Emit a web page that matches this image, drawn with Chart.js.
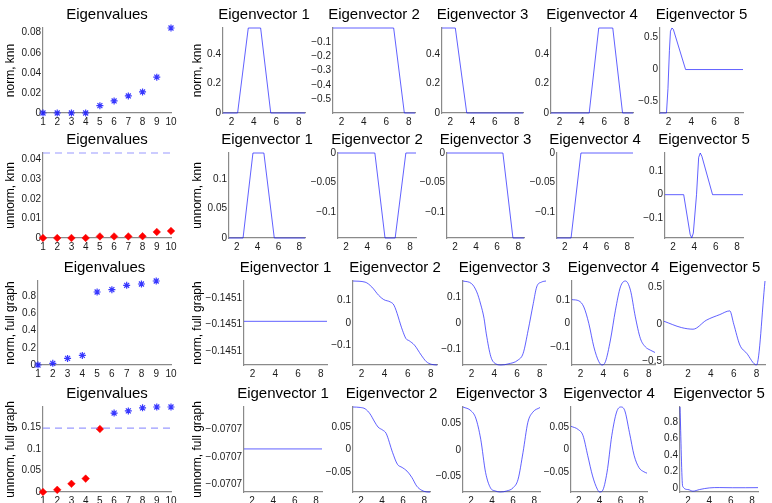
<!DOCTYPE html>
<html>
<head>
<meta charset="utf-8">
<script src="https://cdn.jsdelivr.net/npm/chart.js@4.4.0/dist/chart.umd.min.js"></script>
<style>
  body { margin: 0; background: #fff; width: 772px; height: 503px; position: relative; overflow: hidden; }
  canvas { position: absolute; }
</style>
</head>
<body>
<script>
/* ============== Data: eigenvalues ===========*/
const evIdx = [1, 2, 3, 4, 5, 6, 7, 8, 9, 10];
const evalNormKnn = [0, 0, 0, 0, 0.0073, 0.012, 0.017, 0.021, 0.0357, 0.0847];
const evalUnnormKnn = [0, 0, 0, 0, 0.0008, 0.0008, 0.0008, 0.0009, 0.0031, 0.0036];
const evalNormFull = [0, 0.019, 0.077, 0.112, 0.85, 0.877, 0.928, 0.943, 0.978, null];
const evalUnnormFull = [0, 0.005, 0.019, 0.031, 0.146, 0.183, 0.188, 0.195, 0.197, 0.197];
// '*' = blue star, 'd' = red diamond
const markNormKnn = '**********'.split('');
const markUnnormKnn = 'dddddddddd'.split('');
const markNormFull = '**********'.split('');
const markUnnormFull = 'ddddd*****'.split('');
// dashed gap lines
const gapX = [1, 10];
const gapUnnormKnn = 0.0434;
const gapUnnormFull = 0.148;

const evYMax = [0.0847, 0.0434, 0.978, 0.197];
const evYTicks = [
  [0, 0.02, 0.04, 0.06, 0.08],
  [0, 0.01, 0.02, 0.03, 0.04],
  [0, 0.2, 0.4, 0.6, 0.8],
  [0, 0.05, 0.1, 0.15]
];

/* ============== Data: eigenvectors, norm knn ===========*/
const nk1 = [[1.25, 0], [2.55, 0], [3.5, 0.58], [4.6, 0.58], [5.5, 0], [8.55, 0]];
const nk2 = [[1.25, -0.002], [6.65, -0.002], [7.6, -0.598], [8.55, -0.598]];
const nk3 = [[1.25, 0.58], [2.45, 0.58], [3.48, 0], [8.55, 0]];
const nk4 = [[1.25, 0], [4.65, 0], [5.5, 0.58], [6.75, 0.58], [7.62, 0], [8.55, 0]];
const nk5 = [[1.25, -0.68], [1.82, -0.68], [1.95, -0.3], [2.08, 0.3], [2.17, 0.6], [2.3, 0.65], [2.42, 0.63], [3.5, 0], [8.55, 0]];
const nkLim = [[0, 0.58], [-0.598, -0.002], [0, 0.58], [0, 0.58], [-0.68, 0.65]];
const nkTicks = [[0, 0.2, 0.4], [-0.5, -0.4, -0.3, -0.2, -0.1], [0, 0.2, 0.4], [0, 0.2, 0.4], [-0.5, 0, 0.5]];

/* ============== Data: eigenvectors, unnorm knn ===========*/
const uk1 = [[1.25, 0], [2.6, 0], [3.55, 0.144], [4.6, 0.144], [5.6, 0], [8.55, 0]];
const uk2 = [[1.25, 0], [4.7, 0], [5.65, -0.144], [6.6, -0.144], [7.6, 0], [8.55, 0]];
const uk3 = [[1.25, 0], [6.55, 0], [7.5, -0.144], [8.55, -0.144]];
const uk4 = [[1.25, -0.144], [2.6, -0.144], [3.55, 0], [8.55, 0]];
const uk5 = [[1.25, 0], [3.0, 0], [3.6, -0.17], [3.75, -0.186], [3.9, -0.165], [4.2, 0], [4.4, 0.16], [4.55, 0.179], [4.7, 0.165], [5.7, 0], [8.55, 0]];
const ukLim = [[0, 0.144], [-0.144, 0], [-0.144, 0], [-0.144, 0], [-0.186, 0.179]];
const ukTicks = [[0, 0.05, 0.1], [-0.1, -0.05, 0], [-0.1, -0.05, 0], [-0.1, -0.05, 0], [-0.1, 0, 0.1]];

/* ============== Data: eigenvectors, norm full graph ===========*/
const nf1 = [[1.25, -0.145094], [8.55, -0.145094]];
const nf2 = [[1.25, 0.187], [2.3, 0.182], [2.89, 0.16], [3.48, 0.123], [3.92, 0.104], [4.51, 0.093], [4.81, 0.079],
  [5.55, -0.033], [5.85, -0.07], [6.14, -0.08], [6.59, -0.099], [7.18, -0.144], [7.62, -0.173], [8.07, -0.185], [8.55, -0.188]];
const nf3 = [[1.25, 0.164], [2.0, 0.154], [2.46, 0.122], [2.8, 0.075], [3.1, 0.02], [3.3, -0.04], [3.7, -0.128], [4.15, -0.156],
  [4.6, -0.16], [5.2, -0.156], [6.09, -0.141], [6.54, -0.115], [6.98, -0.026], [7.43, 0.077], [7.73, 0.141], [8.17, 0.16], [8.55, 0.164]];
const nf4 = [[1.25, 0.101], [1.85, 0.096], [2.29, 0.07], [2.73, 0], [3.17, -0.099], [3.61, -0.162], [3.9, -0.176], [4.19, -0.162],
  [4.63, -0.07], [5.07, 0.056], [5.51, 0.155], [5.95, 0.18], [6.39, 0.141], [6.82, 0.028], [7.26, -0.063], [7.7, -0.099], [8.14, -0.113], [8.55, -0.123]];
const nf5 = [[-0.1, 0.04], [1.42, -0.045], [2.44, -0.067], [3.6, 0.054], [4.78, 0.13], [5.65, 0.18], [6.0, 0.0], [6.53, -0.28],
  [7.12, -0.39], [7.99, -0.55], [8.73, 0.583]];
const nfLim = [[-0.14512, -0.14507], [-0.188, 0.187], [-0.16, 0.164], [-0.176, 0.18], [-0.55, 0.583]];
const nfTicks = [[-0.145112, -0.1450955, -0.14508], [-0.1, 0, 0.1], [-0.1, 0, 0.1], [-0.1, 0, 0.1], [-0.5, 0, 0.5]];

/* ============== Data: eigenvectors, unnorm full graph ===========*/
const uf1 = [[1.25, -0.0707074], [8.55, -0.0707074]];
const uf2 = [[1.25, 0.094], [1.94, 0.093], [2.4, 0.09], [2.86, 0.079], [3.31, 0.061], [3.62, 0.05], [4.08, 0.043], [4.39, 0.036],
  [5.0, -0.006], [5.46, -0.032], [5.91, -0.039], [6.37, -0.047], [6.83, -0.061], [7.29, -0.08], [7.75, -0.089], [8.36, -0.093], [8.55, -0.093]];
const uf3 = [[1.25, 0.081], [2.0, 0.074], [2.46, 0.06], [2.93, 0.02], [3.39, -0.043], [3.85, -0.072], [4.31, -0.078], [4.78, -0.08],
  [5.4, -0.078], [6.0, -0.072], [6.47, -0.056], [6.94, -0.005], [7.4, 0.052], [7.86, 0.071], [8.55, 0.08]];
const uf4 = [[1.25, 0.051], [1.94, 0.044], [2.4, 0.031], [2.86, -0.013], [3.32, -0.057], [3.78, -0.086], [4.0, -0.092], [4.25, -0.09],
  [4.71, -0.049], [5.17, 0.031], [5.63, 0.082], [6.03, 0.093], [6.4, 0.086], [6.86, 0.038], [7.32, -0.013], [7.78, -0.039], [8.25, -0.048], [8.55, -0.051]];
const uf5 = [[1.25, 0.985], [1.5, 0.02], [2.0, -0.02], [2.46, -0.04], [3.08, -0.02], [4.0, 0.0], [4.92, 0.004], [6.15, 0.002], [7.38, 0.002], [8.55, 0.003]];
const ufLim = [[-0.070715, -0.0707], [-0.093, 0.094], [-0.08, 0.081], [-0.092, 0.093], [-0.05, 0.985]];
const ufTicks = [[-0.07071365, -0.0707089, -0.07070386], [-0.05, 0, 0.05], [-0.05, 0, 0.05], [-0.05, 0, 0.05], [0, 0.2, 0.4, 0.6, 0.8]];

const vecX = [1.25, 8.55];
const vecXWide = [-0.1, 8.73];   // norm full graph, eigenvector 5
const vecXTicks = [2, 4, 6, 8];

const rowLabels = ['norm, knn', 'unnorm, knn', 'norm, full graph', 'unnorm, full graph'];

/* ============== Layout (plot areas in px) ===========*/
const rowY = [[28, 113], [153, 238], [281, 365], [407, 492]];
const colX = [
  [[43, 171], [223, 305], [333, 415], [442, 523], [551, 633], [660, 743]],
  [[43, 171], [229, 305], [338, 416], [447, 524], [557, 633], [665, 743]],
  [[38, 171], [244, 327], [353, 437], [463, 546], [572, 655], [664, 765]],
  [[43, 171], [244, 322], [353, 430], [463, 540], [571, 647], [680, 758]]
];

const FONT = '"Liberation Sans", Arial, Helvetica, sans-serif';
Chart.defaults.font.family = FONT;
const LINE = 'rgba(30, 30, 255, 0.7)';
const AXIS = '#8a8a8a';
const TXT = '#1a1a1a';

function fmt(v) {
  return String(+(+v).toFixed(4)).replace('-', '\u2212');
}

// title drawn centred over the plot area, like matlab's axes title
const plotTitle = {
  id: 'plotTitle',
  afterDraw(chart, args, opts) {
    const { ctx, chartArea } = chart;
    ctx.save();
    ctx.font = '15px ' + FONT;
    ctx.fillStyle = '#000';
    ctx.textAlign = 'center';
    ctx.textBaseline = 'alphabetic';
    ctx.fillText(opts.text, (chartArea.left + chartArea.right) / 2, chartArea.top - 9);
    ctx.restore();
  }
};

function makeChart(row, col, cfg) {
  const [left, right] = colX[row][col];
  const [top, bottom] = rowY[row];
  const titleH = 26, axisH = 18, padR = 12;
  let axisW = 46;
  if (col === 0) axisW = left - 3;
  if (col === 1) axisW = left - 190;
  const w = axisW + (right - left) + padR;
  const h = titleH + (bottom - top) + axisH;
  const cv = document.createElement('canvas');
  cv.width = w; cv.height = h;
  cv.style.left = (left - axisW) + 'px';
  cv.style.top = (top - titleH) + 'px';
  cv.style.width = w + 'px';
  cv.style.height = h + 'px';
  document.body.appendChild(cv);

  const tickOpts = { padding: 2, color: TXT, font: { size: 10 }, autoSkip: false, maxRotation: 0, minRotation: 0, callback: fmt };

  new Chart(cv, {
    type: 'scatter',
    data: { datasets: cfg.datasets },
    plugins: [plotTitle],
    options: {
      responsive: false,
      animation: false,
      devicePixelRatio: 1,
      layout: { padding: { left: 0, right: padR, top: titleH, bottom: 0 } },
      plugins: {
        legend: { display: false },
        tooltip: { enabled: false },
        title: { display: false },
        plotTitle: { text: cfg.title }
      },
      scales: {
        x: {
          type: 'linear', min: cfg.xLim[0], max: cfg.xLim[1],
          afterBuildTicks: s => { s.ticks = cfg.xTicks.map(v => ({ value: v })); },
          afterFit: s => { s.height = axisH; },
          grid: { display: false, drawTicks: false },
          border: { display: true, color: AXIS, width: 1.2 },
          ticks: Object.assign({}, tickOpts, { padding: 3 })
        },
        y: {
          type: 'linear', min: cfg.yLim[0], max: cfg.yLim[1],
          afterBuildTicks: s => { s.ticks = cfg.yTicks.map(v => ({ value: v })); },
          afterFit: s => { s.width = axisW; },
          grid: { display: false, drawTicks: false },
          border: { display: true, color: AXIS, width: 1.2 },
          ticks: tickOpts,
          title: {
            display: col <= 1, text: rowLabels[row], color: '#000',
            font: { size: 12 }, padding: 0
          }
        }
      }
    }
  });
}

/* ============== Eigenvalue plots ===========*/
function evalDatasets(vals, marks, gap) {
  const stars = [], diamonds = [];
  evIdx.forEach((x, i) => {
    if (vals[i] === null) return;
    (marks[i] === 'd' ? diamonds : stars).push({ x, y: vals[i] });
  });
  const sets = [];
  if (gap !== undefined) {
    sets.push({
      data: gapX.map(x => ({ x, y: gap })), showLine: true, pointRadius: 0,
      borderColor: 'rgba(120, 120, 255, 0.75)', borderWidth: 1.2, borderDash: [7, 5], clip: false
    });
  }
  sets.push({
    data: stars, pointStyle: 'star', pointRadius: 3.5, borderWidth: 1.2,
    borderColor: 'rgba(20, 20, 255, 0.85)', backgroundColor: 'rgba(20, 20, 255, 0.85)', clip: false
  });
  sets.push({
    data: diamonds, pointStyle: 'rectRot', pointRadius: 3.8, borderWidth: 0.5,
    borderColor: '#ff0000', backgroundColor: '#ff0000', clip: false
  });
  return sets;
}

const evalRows = [
  evalDatasets(evalNormKnn, markNormKnn),
  evalDatasets(evalUnnormKnn, markUnnormKnn, gapUnnormKnn),
  evalDatasets(evalNormFull, markNormFull),
  evalDatasets(evalUnnormFull, markUnnormFull, gapUnnormFull)
];

evalRows.forEach((sets, r) => {
  makeChart(r, 0, {
    title: 'Eigenvalues', datasets: sets,
    xLim: [1, 10], xTicks: evIdx,
    yLim: [0, evYMax[r]], yTicks: evYTicks[r]
  });
});

/* ============== Eigenvector plots ===========*/
const vecRows = [
  { curves: [nk1, nk2, nk3, nk4, nk5], lims: nkLim, ticks: nkTicks, smooth: false },
  { curves: [uk1, uk2, uk3, uk4, uk5], lims: ukLim, ticks: ukTicks, smooth: false },
  { curves: [nf1, nf2, nf3, nf4, nf5], lims: nfLim, ticks: nfTicks, smooth: true },
  { curves: [uf1, uf2, uf3, uf4, uf5], lims: ufLim, ticks: ufTicks, smooth: true }
];

vecRows.forEach((row, r) => {
  row.curves.forEach((curve, k) => {
    const ds = {
      data: curve.map(p => ({ x: p[0], y: p[1] })),
      showLine: true, pointRadius: 0, borderColor: LINE, borderWidth: 1, clip: false
    };
    if (row.smooth) ds.cubicInterpolationMode = 'monotone';
    makeChart(r, k + 1, {
      title: 'Eigenvector ' + (k + 1), datasets: [ds],
      xLim: (r === 2 && k === 4) ? vecXWide : vecX, xTicks: vecXTicks,
      yLim: row.lims[k], yTicks: row.ticks[k]
    });
  });
});
</script>
</body>
</html>
